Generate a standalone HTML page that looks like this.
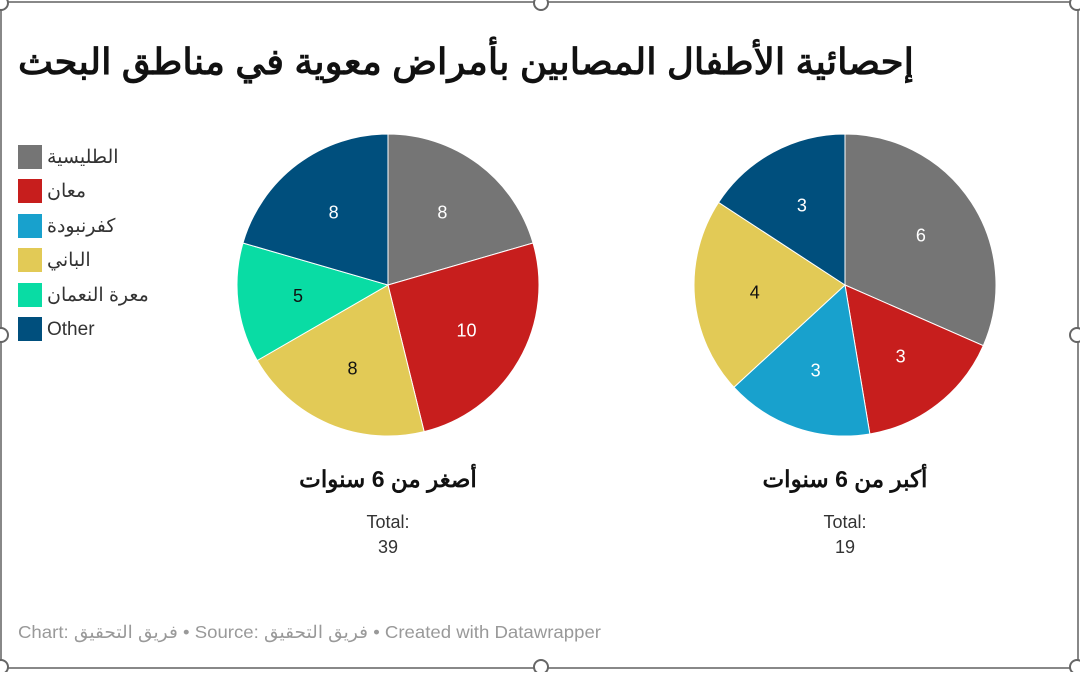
<!DOCTYPE html>
<html><head><meta charset="utf-8"><style>
body{margin:0;width:1080px;height:672px;background:#fff;overflow:hidden;font-family:"Liberation Sans","Noto Sans CJK SC",sans-serif;}
</style></head><body>
<svg id="s" width="1080" height="672" xmlns="http://www.w3.org/2000/svg" font-family="Liberation Sans, Noto Sans CJK SC, sans-serif">
<rect x="1" y="2" width="1077" height="666" fill="none" stroke="#888" stroke-width="2"/>
<g fill="#fff" stroke="#666" stroke-width="2">
<circle cx="541" cy="3" r="7"/><circle cx="1077" cy="3" r="7"/><circle cx="1" cy="3" r="7"/>
<circle cx="1" cy="335" r="7"/><circle cx="1077" cy="335" r="7"/>
<circle cx="541" cy="667" r="7"/><circle cx="1" cy="667" r="7"/><circle cx="1077" cy="667" r="7"/>
</g>
<text x="18" y="74" font-size="36" font-weight="bold" fill="#111" textLength="896" lengthAdjust="spacingAndGlyphs">إحصائية الأطفال المصابين بأمراض معوية في مناطق البحث</text>
<g font-size="19" fill="#333">
<rect x="18" y="145" width="24" height="24" fill="#757575"/><text x="47" y="163">الطليسية</text>
<rect x="18" y="179" width="24" height="24" fill="#c71e1d"/><text x="47" y="197">معان</text>
<rect x="18" y="214" width="24" height="24" fill="#18a1cd"/><text x="47" y="232">كفرنبودة</text>
<rect x="18" y="248" width="24" height="24" fill="#e2ca56"/><text x="47" y="266">الباني</text>
<rect x="18" y="283" width="24" height="24" fill="#09dca4"/><text x="47" y="301">معرة النعمان</text>
<rect x="18" y="317" width="24" height="24" fill="#004f7d"/><text x="47" y="335">Other</text>
</g>
<g id="pies"></g>
<g text-anchor="middle">
<text x="388" y="487" font-size="23" font-weight="bold" fill="#111" direction="rtl">أصغر من 6 سنوات</text>
<text x="845" y="487" font-size="23" font-weight="bold" fill="#111" direction="rtl">أكبر من 6 سنوات</text>
<text x="388" y="528" font-size="18" fill="#333">Total:</text><text x="388" y="553" font-size="18" fill="#333">39</text>
<text x="845" y="528" font-size="18" fill="#333">Total:</text><text x="845" y="553" font-size="18" fill="#333">19</text>
</g>
<text x="18" y="638" font-size="17.5" fill="#999" textLength="583" lengthAdjust="spacingAndGlyphs">Chart: فريق التحقيق • Source: فريق التحقيق • Created with Datawrapper</text>
</svg>
<script>
var cols=["#757575","#c71e1d","#18a1cd","#e2ca56","#09dca4","#004f7d"];
function pie(cx,cy,r,vals){
 var g=document.getElementById('pies'),t=0,tot=vals.reduce(function(a,b){return a+b[1]},0),h='';
 vals.forEach(function(v){
  var a0=t/tot*2*Math.PI;t+=v[1];var a1=t/tot*2*Math.PI;
  var x0=cx+r*Math.sin(a0),y0=cy-r*Math.cos(a0),x1=cx+r*Math.sin(a1),y1=cy-r*Math.cos(a1);
  h+='<path d="M'+cx+','+cy+'L'+x0+','+y0+'A'+r+','+r+' 0 '+((a1-a0)>Math.PI?1:0)+' 1 '+x1+','+y1+'Z" fill="'+cols[v[0]]+'" stroke="#fff" stroke-width="1"/>';
  var am=(a0+a1)/2,lr=r*0.6;
  h+='<text x="'+(cx+lr*Math.sin(am))+'" y="'+(cy-lr*Math.cos(am)+6)+'" text-anchor="middle" font-size="18" fill="'+(v[0]==3||v[0]==4?'#111':'#fff')+'">'+v[1]+'</text>';
 });
 g.innerHTML+=h;
}
pie(388,285,151,[[0,8],[1,10],[3,8],[4,5],[5,8]]);
pie(845,285,151,[[0,6],[1,3],[2,3],[3,4],[5,3]]);
</script>
</body></html>
